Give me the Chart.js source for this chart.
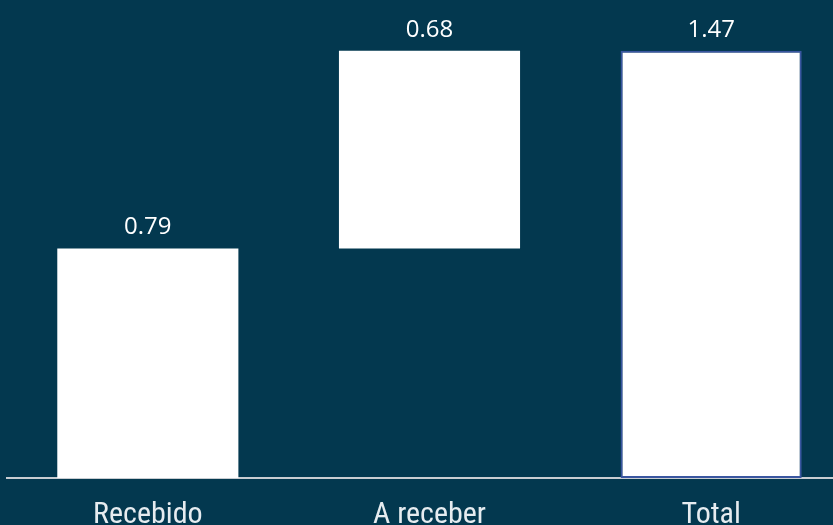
<!DOCTYPE html>
<html>
<head>
<meta charset="utf-8">
<script src="https://cdn.jsdelivr.net/npm/chart.js@4.4.0/dist/chart.umd.min.js"></script>
<style>
  html, body { margin: 0; padding: 0; background: #03384f; overflow: hidden; width: 833px; height: 525px; }
  #wrap { position: absolute; left: 0; top: 0; width: 860px; height: 560px; }
</style>
</head>
<body>
<div id="wrap"><canvas id="c"></canvas></div>
<script>
const categories = ["Recebido", "A receber", "Total"];
const received = 0.79;
const toReceive = 0.68;
const total = 1.47;
const labelValues = [received, toReceive, total];
const floatingData = [[0, received], [received, received + toReceive], [0, total]];

const valueLabels = {
  id: 'valueLabels',
  afterDatasetsDraw(chart) {
    const ctx = chart.ctx;
    const meta = chart.getDatasetMeta(0);
    ctx.save();
    ctx.fillStyle = '#ffffff';
    ctx.font = '24px "Open Sans"';
    ctx.textAlign = 'center';
    ctx.textBaseline = 'alphabetic';
    meta.data.forEach((el, i) => {
      ctx.fillText(labelValues[i].toFixed(2), el.x, el.y - 14);
    });
    ctx.restore();
  }
};

new Chart(document.getElementById('c'), {
  type: 'bar',
  data: {
    labels: categories,
    datasets: [{
      data: floatingData,
      backgroundColor: '#ffffff',
      borderColor: ['#ffffff', '#ffffff', '#3a56a0'],
      borderWidth: [0, 0, 2],
      borderSkipped: false,
      barPercentage: 0.643,
      categoryPercentage: 1.0
    }]
  },
  options: {
    responsive: true,
    maintainAspectRatio: false,
    animation: false,
    layout: { padding: { left: 7, right: 8, top: 0, bottom: 8 } },
    plugins: { legend: { display: false }, tooltip: { enabled: false } },
    scales: {
      x: {
        grid: { display: false, drawTicks: false },
        border: { display: true, color: '#c8cdd2', width: 2 },
        ticks: {
          color: '#e6ecf0',
          padding: 19,
          font: { family: '"Liberation Sans Narrow", "Roboto Condensed", "Liberation Sans", sans-serif', size: 30 }
        }
      },
      y: {
        display: false,
        min: 0,
        max: 1.645
      }
    }
  },
  plugins: [valueLabels]
});
</script>
</body>
</html>
